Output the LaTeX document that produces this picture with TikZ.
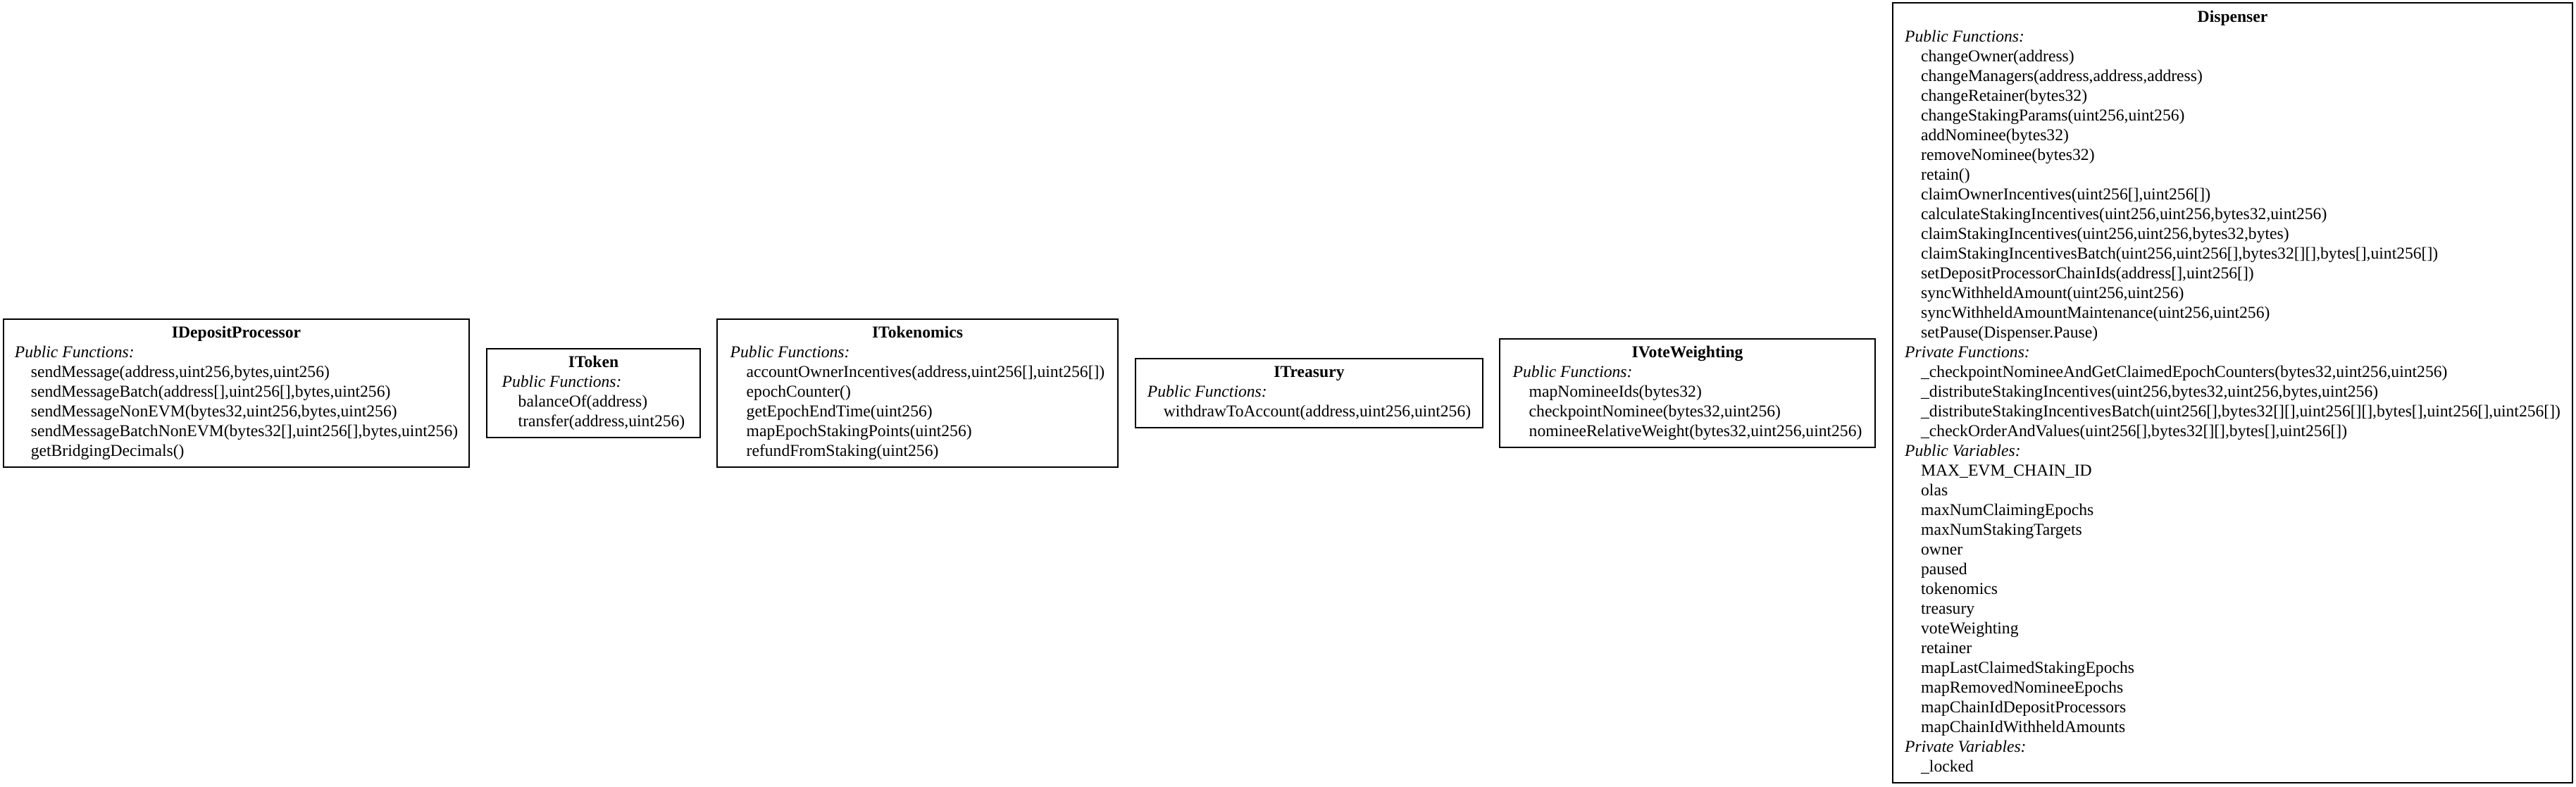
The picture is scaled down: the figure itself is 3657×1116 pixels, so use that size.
\documentclass[tikz,border=0pt]{standalone}
\usepackage{fontspec}
\setmainfont{Liberation Serif}
\newcommand\itm[1]{\hspace*{5.75pt}#1}
\newcommand\grp[1]{\textit{#1}}
\newcommand\ttl[1]{\multicolumn{1}{@{}c@{}}{\textbf{#1}}}
\tikzset{
  cls/.style={draw=black, line width=0.5pt, inner sep=0pt, anchor=center,
    font=\fontsize{5.9pt}{7pt}\selectfont}
}
\begin{document}
\begin{tikzpicture}[x=0.25pt,y=-0.25pt]
\useasboundingbox (0,0) rectangle (3657,1116);
\fill[white] (0,0) rectangle (3657,1116);

\node[cls, minimum width=165.25pt, minimum height=52.5pt] (dep) at (335.5,557.5) {%
\begin{tabular}{@{}l@{}}
\ttl{IDepositProcessor}\\
\grp{Public Functions:}\\
\itm{sendMessage(address,uint256,bytes,uint256)}\\
\itm{sendMessageBatch(address[],uint256[],bytes,uint256)}\\
\itm{sendMessageNonEVM(bytes32,uint256,bytes,uint256)}\\
\itm{sendMessageBatchNonEVM(bytes32[],uint256[],bytes,uint256)}\\
\itm{getBridgingDecimals()}
\end{tabular}};

\node[cls, minimum width=75.75pt, minimum height=31.5pt] (token) at (842.5,557.5) {%
\begin{tabular}{@{}l@{}}
\ttl{IToken}\\
\grp{Public Functions:}\\
\itm{balanceOf(address)}\\
\itm{transfer(address,uint256)}
\end{tabular}};

\node[cls, minimum width=142.25pt, minimum height=52.5pt] (tokenomics) at (1302.5,557.5) {%
\begin{tabular}{@{}l@{}}
\ttl{ITokenomics}\\
\grp{Public Functions:}\\
\itm{accountOwnerIncentives(address,uint256[],uint256[])}\\
\itm{epochCounter()}\\
\itm{getEpochEndTime(uint256)}\\
\itm{mapEpochStakingPoints(uint256)}\\
\itm{refundFromStaking(uint256)}
\end{tabular}};

\node[cls, minimum width=123.25pt, minimum height=24.5pt] (treasury) at (1858.5,557.5) {%
\begin{tabular}{@{}l@{}}
\ttl{ITreasury}\\
\grp{Public Functions:}\\
\itm{withdrawToAccount(address,uint256,uint256)}
\end{tabular}};

\node[cls, minimum width=133.25pt, minimum height=38.5pt] (vote) at (2395.5,557.5) {%
\begin{tabular}{@{}l@{}}
\ttl{IVoteWeighting}\\
\grp{Public Functions:}\\
\itm{mapNomineeIds(bytes32)}\\
\itm{checkpointNominee(bytes32,uint256)}\\
\itm{nomineeRelativeWeight(bytes32,uint256,uint256)}
\end{tabular}};

\node[cls, minimum width=241.25pt, minimum height=276.75pt] (dispenser) at (3169.5,557.5) {%
\begin{tabular}{@{}l@{}}
\ttl{Dispenser}\\
\grp{Public Functions:}\\
\itm{changeOwner(address)}\\
\itm{changeManagers(address,address,address)}\\
\itm{changeRetainer(bytes32)}\\
\itm{changeStakingParams(uint256,uint256)}\\
\itm{addNominee(bytes32)}\\
\itm{removeNominee(bytes32)}\\
\itm{retain()}\\
\itm{claimOwnerIncentives(uint256[],uint256[])}\\
\itm{calculateStakingIncentives(uint256,uint256,bytes32,uint256)}\\
\itm{claimStakingIncentives(uint256,uint256,bytes32,bytes)}\\
\itm{claimStakingIncentivesBatch(uint256,uint256[],bytes32[][],bytes[],uint256[])}\\
\itm{setDepositProcessorChainIds(address[],uint256[])}\\
\itm{syncWithheldAmount(uint256,uint256)}\\
\itm{syncWithheldAmountMaintenance(uint256,uint256)}\\
\itm{setPause(Dispenser.Pause)}\\
\grp{Private Functions:}\\
\itm{\_checkpointNomineeAndGetClaimedEpochCounters(bytes32,uint256,uint256)}\\
\itm{\_distributeStakingIncentives(uint256,bytes32,uint256,bytes,uint256)}\\
\itm{\_distributeStakingIncentivesBatch(uint256[],bytes32[][],uint256[][],bytes[],uint256[],uint256[])}\\
\itm{\_checkOrderAndValues(uint256[],bytes32[][],bytes[],uint256[])}\\
\grp{Public Variables:}\\
\itm{MAX\_EVM\_CHAIN\_ID}\\
\itm{olas}\\
\itm{maxNumClaimingEpochs}\\
\itm{maxNumStakingTargets}\\
\itm{owner}\\
\itm{paused}\\
\itm{tokenomics}\\
\itm{treasury}\\
\itm{voteWeighting}\\
\itm{retainer}\\
\itm{mapLastClaimedStakingEpochs}\\
\itm{mapRemovedNomineeEpochs}\\
\itm{mapChainIdDepositProcessors}\\
\itm{mapChainIdWithheldAmounts}\\
\grp{Private Variables:}\\
\itm{\_locked}
\end{tabular}};
\end{tikzpicture}
\end{document}
